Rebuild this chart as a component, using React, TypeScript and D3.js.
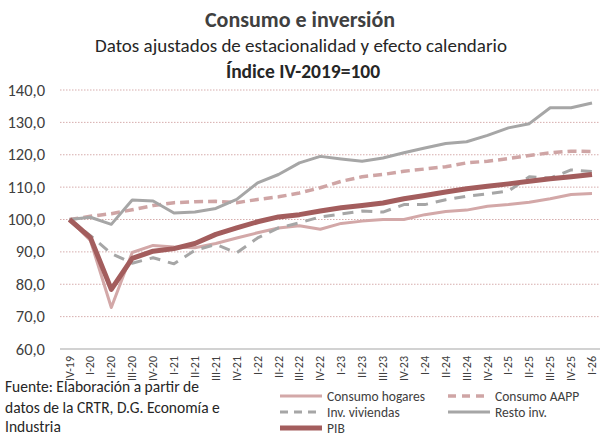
import { line, scaleLinear, scalePoint } from 'd3';

const quarters = [
  'IV-19', 'I-20', 'II-20', 'III-20', 'IV-20', 'I-21', 'II-21', 'III-21', 'IV-21',
  'I-22', 'II-22', 'III-22', 'IV-22', 'I-23', 'II-23', 'III-23', 'IV-23',
  'I-24', 'II-24', 'III-24', 'IV-24', 'I-25', 'II-25', 'III-25', 'IV-25', 'I-26',
];

const consumoHogares = [
  100, 93.5, 72.8, 89.8, 92, 91.5, 91.3, 92.6, 94.3, 95.9, 97.4, 98.1, 97.0,
  98.8, 99.5, 100, 100, 101.5, 102.5, 102.9, 104.1, 104.6, 105.3, 106.4, 107.7, 108,
];
const consumoAAPP = [
  100, 101, 101.8, 103, 104.3, 105.2, 105.5, 105.6, 105.2, 106.2, 107, 108.2, 109.8,
  111.8, 113.2, 113.9, 114.9, 115.6, 116.3, 117.5, 118, 118.8, 119.8, 120.6, 121.1, 121,
];
const invViviendas = [
  100, 95, 89.5, 86.5, 88.2, 86.3, 90.5, 92.3, 89.7, 94.3, 97.4, 99, 100.8,
  101.7, 102.6, 102.3, 104.6, 104.6, 106.1, 107.2, 107.9, 108.8, 113.2, 112.8, 115.3, 114.8,
];
const restoInv = [
  100, 100.7, 98.5, 106, 105.7, 102, 102.3, 103.4, 106.2, 111.3, 113.9, 117.5, 119.5,
  118.7, 118, 119, 120.6, 122.1, 123.5, 124, 126, 128.3, 129.6, 134.5, 134.5, 136,
];
const pib = [
  100, 94.4, 78.4, 88, 90.2, 91, 92.6, 95.4, 97.4, 99.3, 100.8, 101.5, 102.6,
  103.6, 104.3, 105.1, 106.4, 107.4, 108.5, 109.5, 110.3, 111, 111.8, 112.6, 113.2, 113.9,
];

const yTicks = [60, 70, 80, 90, 100, 110, 120, 130, 140];

const series = [
  { name: 'Consumo hogares', values: consumoHogares, color: '#d3a8a8', width: 3, dash: '' },
  { name: 'Consumo AAPP', values: consumoAAPP, color: '#cfa5a5', width: 3.5, dash: '9,5' },
  { name: 'Inv. viviendas', values: invViviendas, color: '#a6a6a6', width: 3, dash: '11,8' },
  { name: 'Resto inv.', values: restoInv, color: '#a6a6a6', width: 3, dash: '' },
  { name: 'PIB', values: pib, color: '#a35d5d', width: 5, dash: '' },
];

const font = "Carlito, Calibri, 'Open Sans', sans-serif";

export default function App() {
  const width = 602;
  const height = 436;

  const x = scalePoint<string>().domain(quarters).range([69.5, 592]);
  const y = scaleLinear().domain([60, 140]).range([349, 90]);

  const gen = line<number>()
    .x((_, i) => x(quarters[i]) as number)
    .y((d) => y(d));

  const legendPos = [
    [280, 396],
    [448, 396],
    [280, 412],
    [448, 412],
    [280, 428],
  ];

  return (
    <svg
      width={width}
      height={height}
      style={{ position: 'absolute', left: 0, top: 0, background: '#fff' }}
      fontFamily={font}>
      <text x={300} y={27} textAnchor='middle' fontSize={22} fontWeight='bold' fill='#404040'>
        Consumo e inversión
      </text>
      <text x={301} y={52} textAnchor='middle' fontSize={19} fill='#262626'>
        Datos ajustados de estacionalidad y efecto calendario
      </text>
      <text x={303} y={78} textAnchor='middle' fontSize={19.5} fontWeight='bold' fill='#262626'>
        Índice IV-2019=100
      </text>

      <g>
        {yTicks.map((t) => (
          <g key={t}>
            {t > 60 && (
              <line
                x1={60}
                x2={600}
                y1={y(t)}
                y2={y(t)}
                stroke='#d6adad'
                strokeWidth={1}
                strokeDasharray='1.5,1.5'
              />
            )}
            <text x={45} y={y(t) + 5.5} textAnchor='end' fontSize={16.5} fill='#404040'>
              {t.toFixed(1).replace('.', ',')}
            </text>
          </g>
        ))}
        <line x1={60} x2={600} y1={y(60)} y2={y(60)} stroke='#a6a6a6' strokeWidth={1.2} />
      </g>

      <g>
        {quarters.map((q) => (
          <text
            key={q}
            transform={`translate(${(x(q) as number) + 4}, 356) rotate(-90)`}
            textAnchor='end'
            fontSize={12}
            fill='#404040'>
            {q}
          </text>
        ))}
      </g>

      <g fill='none' strokeLinejoin='round'>
        {series.map((s) => (
          <path
            key={s.name}
            d={gen(s.values) ?? ''}
            stroke={s.color}
            strokeWidth={s.width}
            strokeDasharray={s.dash || undefined}
          />
        ))}
      </g>

      <g fontSize={15.5} fill='#262626'>
        <text x={5} y={392}>Fuente: Elaboración a partir de</text>
        <text x={5} y={413}>datos de la CRTR, D.G. Economía e</text>
        <text x={5} y={432}>Industria</text>
      </g>

      <g>
        {series.map((s, i) => {
          const [lx, ly] = legendPos[i];
          return (
            <g key={s.name}>
              <line
                x1={lx}
                x2={lx + 42}
                y1={ly}
                y2={ly}
                stroke={s.color}
                strokeWidth={s.width}
                strokeDasharray={s.dash ? '8,6' : undefined}
              />
              <text x={lx + 47} y={ly + 4.5} fontSize={13.5} fill='#404040'>
                {s.name}
              </text>
            </g>
          );
        })}
      </g>
    </svg>
  );
}
